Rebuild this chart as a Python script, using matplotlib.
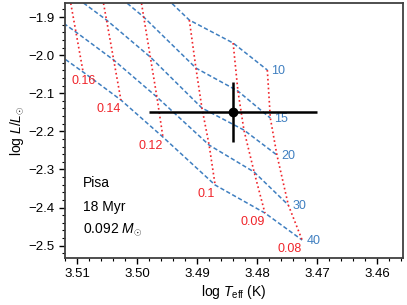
import matplotlib
matplotlib.use("Agg")
import matplotlib.pyplot as plt
from matplotlib.ticker import MultipleLocator

plt.rcParams["font.family"] = ["Liberation Sans", "DejaVu Sans"]
plt.rcParams["mathtext.fontset"] = "custom"
plt.rcParams["mathtext.rm"] = "Liberation Sans"
plt.rcParams["mathtext.it"] = "Liberation Sans:italic"

ages = [10, 15, 20, 30, 40]
masses = [0.2, 0.16, 0.14, 0.12, 0.1, 0.09, 0.08]
track_labels = ["0.16", "0.14", "0.12", "0.1", "0.09", "0.08"]

# log Teff / log L, one row per isochrone (age), one column per mass
log_teff = [
    [3.5215, 3.5140, 3.5077, 3.5002, 3.4913, 3.4840, 3.4783],
    [3.5201, 3.5126, 3.5063, 3.4989, 3.4902, 3.4832, 3.4778],
    [3.5189, 3.5114, 3.5051, 3.4978, 3.4892, 3.4822, 3.4767],
    [3.5177, 3.5102, 3.5039, 3.4967, 3.4880, 3.4805, 3.4748],
    [3.5165, 3.5090, 3.5027, 3.4957, 3.4870, 3.4787, 3.4725],
]
log_lum = [
    [-1.5194, -1.6034, -1.6769, -1.7740, -1.9079, -1.9682, -2.0391],
    [-1.6454, -1.7294, -1.8029, -1.9000, -2.0339, -2.0942, -2.1651],
    [-1.7504, -1.8344, -1.9079, -2.0050, -2.1388, -2.1966, -2.2622],
    [-1.8554, -1.9394, -2.0129, -2.1100, -2.2360, -2.3068, -2.3934],
    [-1.9604, -2.0444, -2.1178, -2.2150, -2.3409, -2.4144, -2.4853],
]

star_teff, star_teff_err = 3.484, 0.014
star_lum, star_lum_err = -2.149, 0.078

blue = "#3f7fc0"
red = "#f0242a"

fig = plt.figure(figsize=(4.07, 3.05), dpi=100)
ax = fig.add_axes([0.160, 0.154, 0.830, 0.836])

# isochrones
for i, age in enumerate(ages):
    ax.plot(log_teff[i], log_lum[i], color=blue, lw=1.1, dashes=(2.8, 1.6))
    ax.annotate(str(age), (log_teff[i][-1], log_lum[i][-1]), xytext=(3, -1),
                textcoords="offset points", color=blue, fontsize=9,
                ha="left", va="center")

# mass tracks (skip the first column, only used to extend isochrones)
for j, lab in enumerate(track_labels):
    k = j + 1
    xs = [row[k] for row in log_teff]
    ys = [row[k] for row in log_lum]
    ax.plot(xs, ys, color=red, lw=1.2, ls=":")
    dx = 9 if lab == "0.16" else 0
    ax.annotate(lab, (xs[-1], ys[-1]), xytext=(dx, -2),
                textcoords="offset points", color=red, fontsize=9,
                ha="right", va="top")

ax.errorbar(star_teff, star_lum, xerr=star_teff_err, yerr=star_lum_err,
            fmt="o", color="k", ms=6, elinewidth=1.8, capsize=0, zorder=5)

ax.text(0.053, 0.294, "Pisa", transform=ax.transAxes, fontsize=10, va="center")
ax.text(0.053, 0.200, "18 Myr", transform=ax.transAxes, fontsize=10, va="center")
ax.text(0.053, 0.112, r"0.092 $M_{\odot}$", transform=ax.transAxes, fontsize=10, va="center")

ax.set_xlim(3.512, 3.4557)
ax.set_ylim(-2.5325, -1.8633)
ax.xaxis.set_major_locator(MultipleLocator(0.01))
ax.xaxis.set_minor_locator(MultipleLocator(0.002))
ax.yaxis.set_major_locator(MultipleLocator(0.1))
ax.yaxis.set_minor_locator(MultipleLocator(0.02))
ax.tick_params(which="both", direction="out", top=False, right=False, labelsize=9.5)
ax.tick_params(which="major", length=4, width=1)
ax.tick_params(which="minor", length=2.5, width=0.8)
for s in ax.spines.values():
    s.set_linewidth(1.3)
    s.set_color("#404040")

ax.set_xlabel(r"log $T_{\rm eff}$ (K)", fontsize=10, labelpad=2)
ax.set_ylabel(r"log $L/L_{\odot}$", fontsize=10, labelpad=2)

fig.savefig("out.png", dpi=100)
